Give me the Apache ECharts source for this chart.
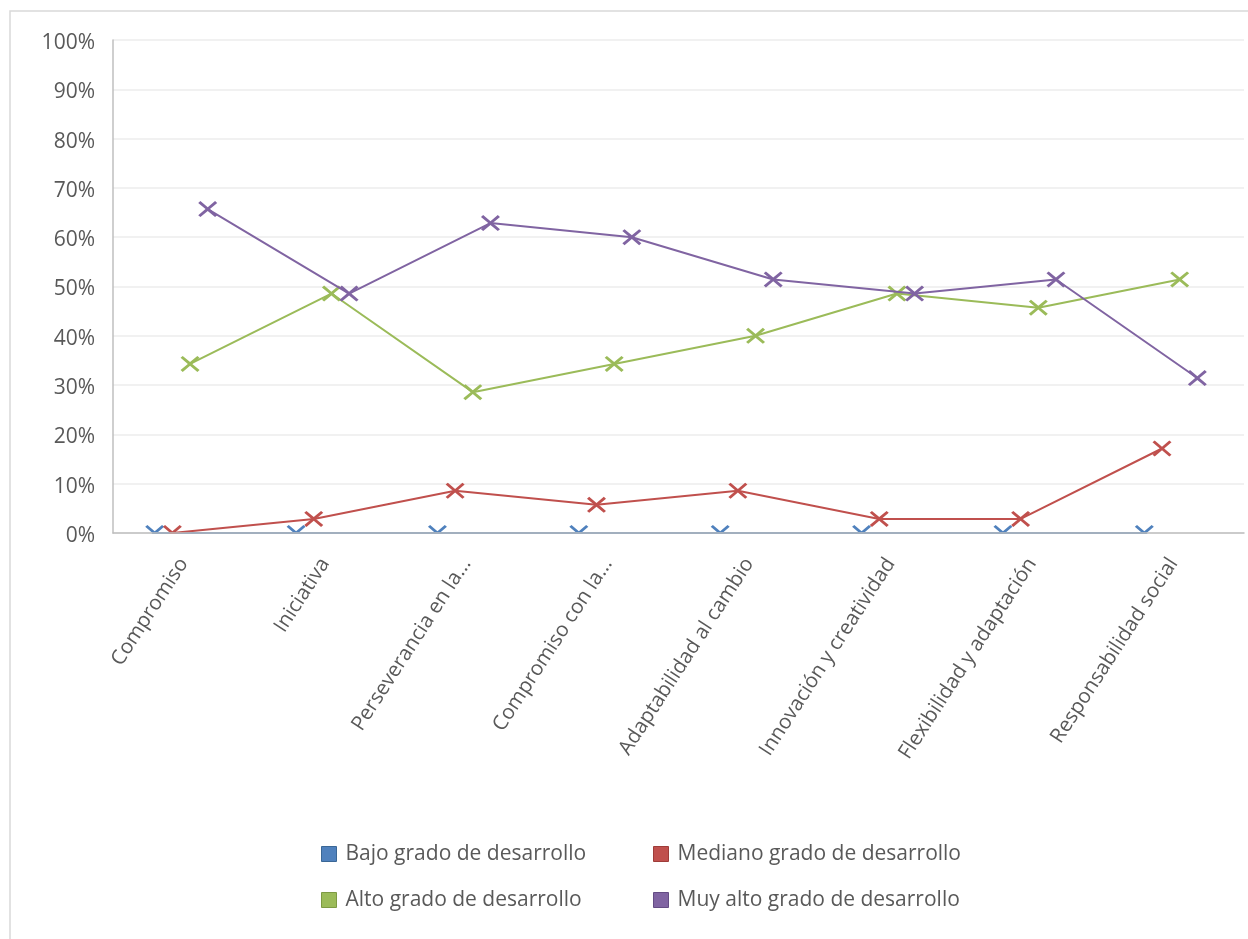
<!DOCTYPE html>
<html>
<head>
<meta charset="utf-8">
<script src="https://cdn.jsdelivr.net/npm/echarts@6/dist/echarts.min.js"></script>
<style>
html,body{margin:0;padding:0;background:#fff;}
#chart{width:1248px;height:939px;}
</style>
</head>
<body>
<div id="chart"></div>
<script>
// ---- data ----
const categories = ['Compromiso', 'Iniciativa', 'Perseverancia en la...', 'Compromiso con la...',
  'Adaptabilidad al cambio', 'Innovación y creatividad', 'Flexibilidad y adaptación', 'Responsabilidad social'];
const seriesNames = ['Bajo grado de desarrollo', 'Mediano grado de desarrollo',
  'Alto grado de desarrollo', 'Muy alto grado de desarrollo'];
const bajo    = [0, 0, 0, 0, 0, 0, 0, 0];
const mediano = [0, 2.86, 8.57, 5.71, 8.57, 2.86, 2.86, 17.14];
const alto    = [34.29, 48.57, 28.57, 34.29, 40.00, 48.57, 45.71, 51.43];
const muyAlto = [65.71, 48.57, 62.86, 60.00, 51.43, 48.57, 51.43, 31.43];
const yTicks = [0, 10, 20, 30, 40, 50, 60, 70, 80, 90, 100];

// ---- styling / layout ----
const colors = ['#4F81BD', '#C0504D', '#9BBB59', '#8064A2'];
const borders = ['#3A6796', '#9E3C39', '#7D9A43', '#644C84'];
const FONT = 'Open Sans';
const TXT = '#595959';
const GRID = {left: 113, right: 4, top: 40, bottom: 406};
const W = 1248, H = 939;
// cluster offsets within a category (fraction of category width)
const offStart = 0.295, offStep = 0.125;
const crossPath = 'path://M0,2.3L2.3,0L10,7.7L17.7,0L20,2.3L12.3,10L20,17.7L17.7,20L10,12.3L2.3,20L0,17.7L7.7,10Z';

const allData = [bajo, mediano, alto, muyAlto];
const series = allData.map((arr, k) => ({
  name: seriesNames[k],
  type: 'line',
  xAxisIndex: 1,
  yAxisIndex: 0,
  data: arr.map((v, i) => [i + offStart + offStep * k, v]),
  symbol: crossPath,
  symbolSize: [19, 16],
  showAllSymbol: true,
  lineStyle: {color: colors[k], width: 2},
  itemStyle: {color: colors[k], borderWidth: 0},
  z: 2 + k,
  animation: false
}));

const legendItem = n => {
  const k = seriesNames.indexOf(n);
  return {name: n, itemStyle: {color: colors[k], borderColor: borders[k], borderWidth: 1}};
};
const legendCommon = {
  orient: 'vertical',
  top: 838,
  itemWidth: 15, itemHeight: 15, itemGap: 24,
  icon: 'rect',
  textStyle: {fontSize: 21, color: TXT, fontFamily: FONT, lineHeight: 22, padding: [0, 0, 0, 4]},
  selectedMode: false
};

const chart = echarts.init(document.getElementById('chart'), null, {renderer: 'canvas'});
const plotBottom = H - GRID.bottom;
chart.setOption({
  animation: false,
  textStyle: {fontFamily: FONT},
  grid: {left: GRID.left, right: GRID.right, top: GRID.top, bottom: GRID.bottom, containLabel: false},
  xAxis: [{
    type: 'category',
    data: categories,
    boundaryGap: true,
    z: 10,
    axisLine: {show: true, lineStyle: {color: '#BFBFBF', width: 1.5}},
    axisTick: {show: false},
    splitLine: {show: false},
    axisLabel: {rotate: 57, margin: 27, fontSize: 20.5, color: TXT, fontFamily: FONT, interval: 0}
  }, {
    type: 'value',
    min: 0, max: categories.length,
    show: false,
    splitLine: {show: false}
  }],
  yAxis: [{
    type: 'value',
    min: yTicks[0], max: yTicks[yTicks.length - 1], interval: 10,
    axisLine: {show: true, lineStyle: {color: '#BFBFBF', width: 1.5}},
    axisTick: {show: false},
    splitLine: {show: true, lineStyle: {color: '#EDEDED', width: 1.5}},
    axisLabel: {formatter: '{value}%', fontSize: 21, color: TXT, fontFamily: FONT, margin: 18,
      verticalAlign: 'top', lineHeight: 22, padding: [-8, 0, 0, 0]}
  }],
  legend: [
    Object.assign({left: 316, data: [seriesNames[0], seriesNames[2]].map(legendItem)}, legendCommon),
    Object.assign({left: 648, data: [seriesNames[1], seriesNames[3]].map(legendItem)}, legendCommon)
  ],
  graphic: [{
    type: 'rect', z: 100, silent: true,
    shape: {x: GRID.left - 2, y: plotBottom + 1, width: W - GRID.left - GRID.right + 4, height: 10},
    style: {fill: '#ffffff'}
  }, {
    type: 'rect', z: 101, silent: true,
    shape: {x: 10, y: 11, width: W + 10, height: H + 10},
    style: {fill: 'none', stroke: '#D9D9D9', lineWidth: 1.5}
  }],
  series: series
});
</script>
</body>
</html>
